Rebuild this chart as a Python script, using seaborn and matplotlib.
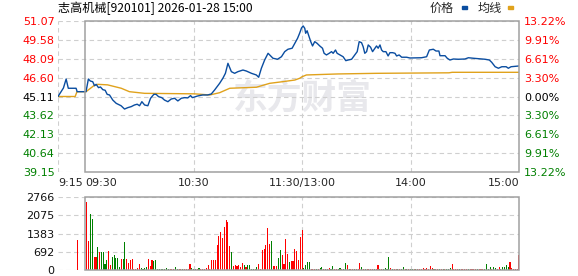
import matplotlib
matplotlib.use("Agg")
import matplotlib.pyplot as plt
import seaborn as sns
import pandas as pd
from matplotlib.patches import Rectangle

# ---------------- data ----------------
title = "志高机械[920101] 2026-01-28 15:00"
prev_close = 45.11
price_ticks = [39.15, 40.64, 42.13, 43.62, 45.11, 46.60, 48.09, 49.58, 51.07]
pct_labels = ["13.22%", "9.91%", "6.61%", "3.30%", "0.00%", "3.30%", "6.61%", "9.91%", "13.22%"]
vol_ticks = [0, 692, 1383, 2075, 2766]
time_ticks = [-15, 0, 60, 120, 180, 240]
time_labels = ["9:15", "09:30", "10:30", "11:30/13:00", "14:00", "15:00"]

# minutes from 09:30 (negative = pre-market auction)
price_min = [-15, -12, -10.5, -9.3, -5, -4.4, 0.5, 1.8, 2.9, 4.2, 5.2, 6.1, 7.4, 8.5, 9.8, 11.1,
             12.2, 13.5, 15.3, 17.2, 19.9, 21.8, 23.6, 25.5, 27.3, 28.8, 30.1, 31.4, 32.9, 34.7,
             36.2, 38, 39.3, 40.6, 42.4, 43.9, 45.8, 47.6, 49.5, 51.3, 53.2, 55, 56.8, 58.3, 59.4,
             62.2, 65, 67.8, 69.8, 71.6, 74.4, 76.2, 77.6, 79, 80.9, 82.7, 84.5, 87.3, 89.2, 92,
             94.7, 96, 97.5, 99.3, 101.2, 102.7, 103.9, 106.4, 108.6, 110.4, 112.2, 114.5, 116,
             117.5, 118.7, 119.7, 120.6, 121.5, 122, 122.8, 123.9, 124.8, 125.8, 127, 128.3, 129.8,
             131.3, 132.2, 133.5, 135, 136.3, 137.2, 138.5, 139.4, 141.3, 142.7, 144.2, 145.5,
             147.4, 149.2, 150.5, 151.6, 152.9, 153.8, 154.7, 155.7, 156.6, 157.9, 159, 160.3,
             161.2, 162.1, 163.1, 164, 164.9, 166.4, 167.6, 168.6, 170.1, 171.4, 172.3, 173.7,
             175.1, 177.8, 179.7, 186.1, 188.9, 190.4, 192.6, 194.1, 195.7, 196.3, 199.1, 200.3,
             201.8, 203.7, 206.4, 210.1, 212, 214.7, 219.4, 221.2, 223.6, 224.9, 226.8, 228.6,
             230.5, 232.9, 234.1, 235.6, 239.7, 240]
price_val = [45.11, 45.78, 46.49, 45.76, 45.76, 45.49, 45.49, 46.49, 46.33, 46.28, 45.96, 46.07,
             45.81, 45.86, 45.65, 45.60, 45.28, 45.23, 44.83, 44.57, 44.38, 44.12, 44.23, 44.31,
             44.44, 44.50, 44.38, 44.70, 44.44, 44.38, 44.97, 45.28, 45.28, 45.10, 45.02, 44.83,
             44.70, 44.91, 44.97, 44.76, 44.97, 45.02, 45.00, 45.18, 45.02, 45.15, 45.23, 45.23,
             45.31, 45.62, 46.15, 46.55, 46.94, 47.73, 47.07, 46.94, 47.07, 47.20, 47.12, 46.94,
             46.81, 46.63, 47.34, 47.99, 48.52, 48.31, 48.13, 48.05, 48.25, 48.65, 48.84, 48.92,
             49.31, 49.70, 50.12, 50.52, 50.68, 50.49, 50.10, 50.30, 49.83, 49.44, 49.10, 49.44,
             49.31, 49.10, 48.92, 48.52, 48.39, 48.52, 48.65, 48.52, 48.78, 48.52, 48.36, 48.25,
             47.94, 47.99, 48.05, 48.39, 48.65, 49.44, 49.36, 49.04, 48.52, 48.65, 49.18, 49.00,
             48.65, 48.92, 49.10, 48.92, 49.18, 48.78, 48.65, 48.65, 48.31, 48.57, 48.57, 48.52,
             48.31, 48.39, 48.21, 48.21, 48.15, 48.17, 48.25, 48.78, 48.84, 48.70, 48.70, 48.33,
             48.33, 48.13, 47.99, 48.07, 48.05, 48.07, 48.17, 48.13, 48.07, 48.05, 47.99, 47.81,
             47.46, 47.34, 47.46, 47.46, 47.34, 47.46, 47.52, 47.52]

avg_min = [-15, -5.5, -4.5, 0.5, 4.8, 7, 12.4, 20, 24.5, 32.9, 60.6, 68.9, 74.4, 80, 94.7,
           102.1, 109.3, 116, 118.7, 120, 122.4, 139.8, 161.2, 201.3, 203, 240]
avg_val = [45.11, 45.11, 45.49, 45.49, 45.96, 46.07, 46.03, 45.76, 45.49, 45.36, 45.32, 45.23,
           45.41, 45.76, 45.84, 46.15, 46.28, 46.41, 46.55, 46.67, 46.81, 46.89, 46.94, 46.98,
           47.02, 47.02]

vol_min = [-4] + list(range(1, 241))
vol_val = [1131,
           2577, 1094, 2112, 1948, 478, 478, 855, 691, 691, 691,
           226, 377, 716, 189, 478, 566, 465, 440, 126, 402,
           402, 1056, 402, 277, 377, 402, 38, 38, 88, 226,
           63, 38, 75, 126, 402, 151, 377, 352, 377, 50,
           50, 50, 50, 50, 75, 50, 38, 50, 38, 100,
           50, 38, 50, 50, 38, 38, 50, 226, 75, 38,
           50, 38, 63, 50, 38, 38, 63, 189, 38, 377,
           377, 377, 943, 1282, 1446, 1219, 1634, 1911, 1823, 905,
           691, 163, 189, 163, 189, 126, 277, 176, 126, 189,
           189, 50, 50, 50, 100, 226, 25, 754, 779, 930,
           1609, 980, 1094, 163, 151, 151, 465, 754, 566, 214,
           1169, 603, 302, 352, 352, 779, 729, 377, 1257, 1508,
           63, 189, 314, 314, 38, 38, 38, 50, 38, 63,
           126, 38, 50, 50, 63, 50, 151, 50, 38, 50,
           63, 38, 50, 251, 189, 50, 38, 38, 50, 50,
           38, 251, 100, 50, 38, 50, 38, 50, 38, 50,
           38, 176, 50, 38, 50, 75, 50, 478, 63, 38,
           38, 50, 38, 50, 38, 100, 38, 50, 38, 50,
           38, 50, 38, 50, 38, 50, 88, 50, 88, 38,
           151, 63, 50, 38, 50, 38, 50, 38, 50, 38,
           50, 75, 226, 50, 38, 50, 38, 38, 50, 38,
           50, 38, 50, 38, 50, 38, 50, 38, 50, 38,
           50, 214, 38, 100, 50, 126, 88, 38, 100, 38,
           126, 126, 189, 100, 314, 63, 25, 38, 38, 566]
# r = up (red), g = down (green); pre-market bar then rows of 10 minutes
vol_dir = ["r",
           "rrggrrgrgg", "ggrrgggggr", "ggrrrrrrrr", "ggggrrrggg", "ggggggrrrg",
           "grrgrrrrgg", "grgrrrrrrr", "rrrrrrrrrr", "grrrrrrgrg", "gggrgrrrrr",
           "rrgrrrggrr", "rrgrrrrrrr", "ggggrrrgrg", "grgrrggrrg", "grggrgrrgr",
           "rrgrgrrrrg", "rrgrggggrg", "rrgrggrgrg", "grgrrrrrrr", "rrgrrgrgrg",
           "ggrrrrgrrr", "rgrrrrgrrr", "ggggrggrrg", "ggggrrrrrr"]

# ---------------- style ----------------
sns.set_theme(style="white")
plt.rcParams["font.family"] = ["DejaVu Sans", "Noto Sans CJK SC"]
RED, GREEN, BLACK = "#FF0000", "#008000", "#000000"
BLUE, ORANGE = "#0A4DA0", "#E0A21C"
GRID, BOX = "#CFCFCF", "#A0A0A0"
dash = (0, (4, 3))

fig = plt.figure(figsize=(5.78, 2.76), dpi=100)
W, H = 578, 276
x0, x1 = 58, 519
ax = fig.add_axes([x0 / W, 1 - 172 / H, (x1 - x0) / W, 151 / H])
axv = fig.add_axes([x0 / W, 1 - 270 / H, (x1 - x0) / W, 73 / H])

# ---------- price panel ----------
ax.set_xlim(-15, 240)
ax.set_ylim(price_ticks[0], price_ticks[-1])
for s in ax.spines.values():
    s.set_visible(False)
for t in price_ticks:
    ax.plot([-15, 240], [t, t], color=GRID, lw=0.8, ls=dash, zorder=1)
for t in [-15, 60, 120, 180]:
    ax.plot([t, t], [price_ticks[0], price_ticks[-1]], color=GRID, lw=0.8, ls=dash, zorder=1)
ax.add_patch(Rectangle((0, price_ticks[0]), 240, price_ticks[-1] - price_ticks[0],
                       fill=False, edgecolor=BOX, lw=1.1, zorder=5, clip_on=False))

ax.text(0.53, 0.49, "东方财富", transform=ax.transAxes, ha="center", va="center",
        fontsize=25, fontweight="bold", color="#E8E8EC", family=["Noto Sans CJK SC"], zorder=0)

df_p = pd.DataFrame({"minute": price_min, "price": price_val})
df_a = pd.DataFrame({"minute": avg_min, "avg": avg_val})
sns.lineplot(data=df_a, x="minute", y="avg", ax=ax, color=ORANGE, lw=1.0, zorder=3)
sns.lineplot(data=df_p, x="minute", y="price", ax=ax, color=BLUE, lw=1.0, zorder=4)
ax.set_xlabel("")
ax.set_ylabel("")

ax.set_yticks(price_ticks)
ax.set_yticklabels([f"{t:.2f}" for t in price_ticks])
for lab, t in zip(ax.get_yticklabels(), price_ticks):
    lab.set_color(RED if t > prev_close + 1e-6 else (BLACK if abs(t - prev_close) < 1e-6 else GREEN))
ax.tick_params(axis="y", length=0, pad=2.5, labelsize=8)

axr = ax.twinx()
axr.set_ylim(ax.get_ylim())
for s in axr.spines.values():
    s.set_visible(False)
axr.set_yticks(price_ticks)
axr.set_yticklabels(pct_labels)
for lab, t in zip(axr.get_yticklabels(), price_ticks):
    lab.set_color(RED if t > prev_close + 1e-6 else (BLACK if abs(t - prev_close) < 1e-6 else GREEN))
axr.tick_params(axis="y", length=0, pad=3.5, labelsize=8)
axr.grid(False)

ax.set_xticks(time_ticks)
ax.set_xticklabels(time_labels)
ax.tick_params(axis="x", length=0, pad=4, labelsize=8)
aligns = ["left", "left", "center", "center", "center", "right"]
for lab, a in zip(ax.get_xticklabels(), aligns):
    lab.set_horizontalalignment(a)
ax.grid(False)

# ---------- volume panel ----------
axv.set_xlim(-15, 240)
axv.set_ylim(0, vol_ticks[-1])
for s in axv.spines.values():
    s.set_visible(False)
for t in vol_ticks:
    axv.plot([-15, 240], [t, t], color=GRID, lw=0.8, ls=dash, zorder=1)
for t in [60, 120, 180]:
    axv.plot([t, t], [0, vol_ticks[-1]], color=GRID, lw=0.8, ls=dash, zorder=1)
dirs = "".join(vol_dir)
colors = [RED if c == "r" else GREEN for c in dirs]
axv.bar(vol_min, vol_val, width=0.6, color=colors, linewidth=0, zorder=3)
axv.add_patch(Rectangle((0, 0), 240, vol_ticks[-1], fill=False, edgecolor=BOX, lw=1.1,
                        zorder=5, clip_on=False))
axv.set_yticks(vol_ticks)
axv.set_yticklabels([str(v) for v in vol_ticks])
axv.tick_params(axis="y", length=0, pad=2.5, labelsize=8, labelcolor="#101010")
axv.set_xticks([])
axv.grid(False)

# ---------- header ----------
cjk = ["Noto Sans CJK SC", "DejaVu Sans"]
fig.text(58 / W, 1 - 8 / H, title, ha="left", va="center", fontsize=8.7, family=cjk, color="#000000")
fig.text(430 / W, 1 - 8 / H, "价格", ha="left", va="center", fontsize=8.7, family=cjk)
fig.text(478 / W, 1 - 8 / H, "均线", ha="left", va="center", fontsize=8.7, family=cjk)
fig.patches.append(Rectangle((462 / W, 1 - 9 / H), 5 / W, 3 / H, transform=fig.transFigure,
                             color=BLUE, figure=fig))
fig.patches.append(Rectangle((508 / W, 1 - 9 / H), 5 / W, 3 / H, transform=fig.transFigure,
                             color=ORANGE, figure=fig))

fig.savefig("out.png", dpi=100)
